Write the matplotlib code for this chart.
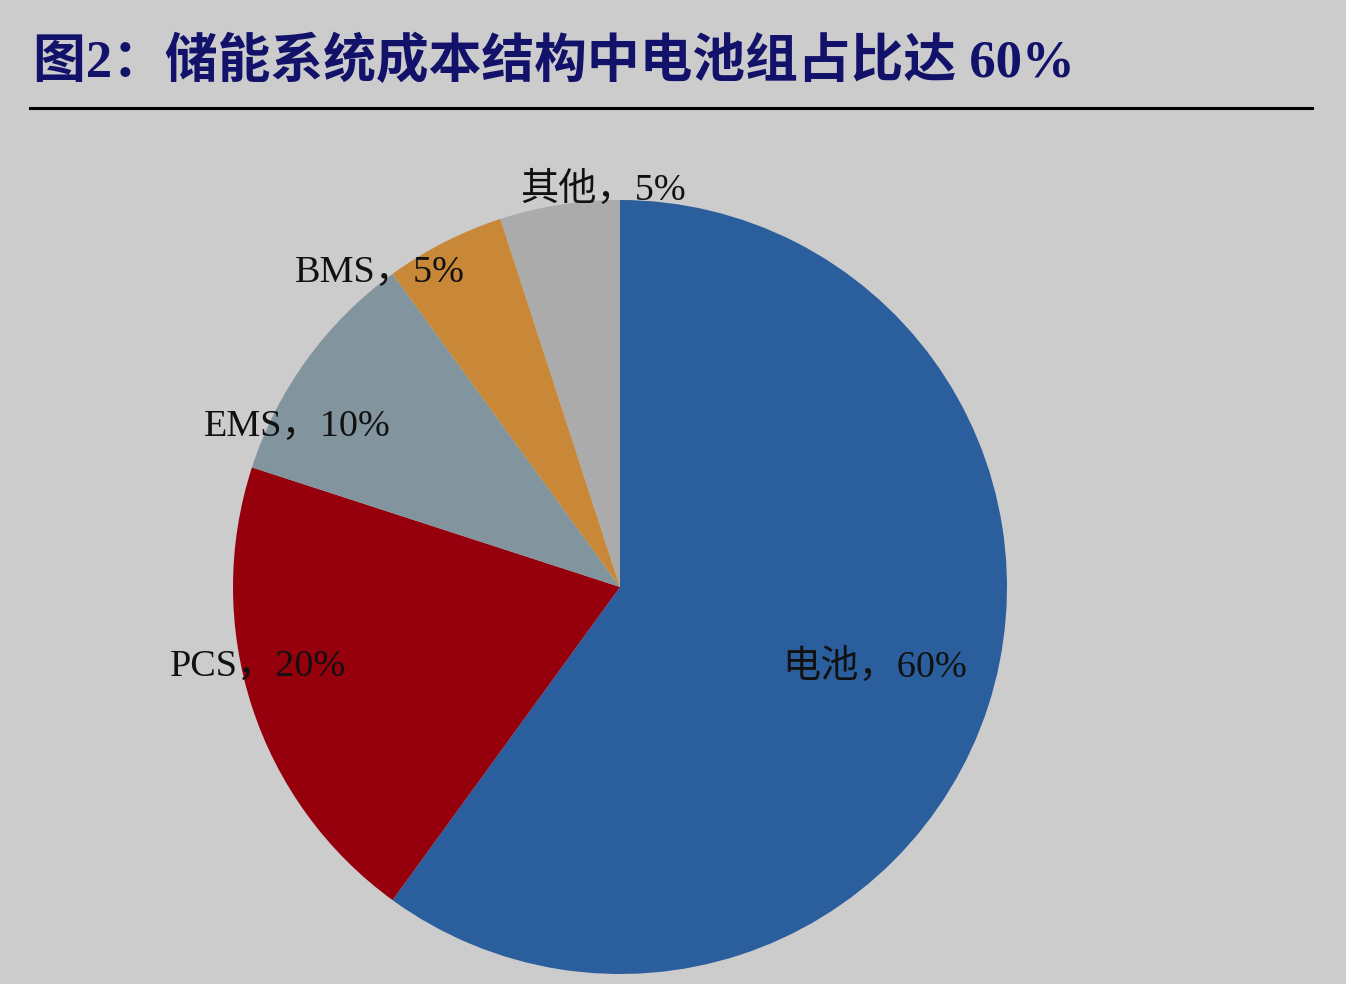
import matplotlib
matplotlib.use("Agg")
import matplotlib.pyplot as plt
from matplotlib.lines import Line2D

# Data
categories = ["电池", "PCS", "EMS", "BMS", "其他"]
shares = [60, 20, 10, 5, 5]
colors = ["#2A5E9C", "#96000C", "#82959E", "#C98838", "#ABABAB"]
title = "图2：储能系统成本结构中电池组占比达 60%"

# label placement (layout, in units of pie radius)
label_pos = [(0.659, -0.207), (-0.935, -0.207), (-0.835, 0.413),
             (-0.620, 0.811), (-0.044, 1.026)]

W, H = 1346, 984
fig = plt.figure(figsize=(W / 100, H / 100), dpi=100)
bg = "#CCCCCC"
fig.patch.set_facecolor(bg)

# Title
fig.text(33 / W, 1 - 62 / H, title, ha="left", va="center",
         fontsize=38, fontweight="bold", color="#12126A",
         family=["Liberation Serif", "Noto Sans CJK SC"])
fig.add_artist(Line2D([30 / W, 1312 / W], [1 - 108 / H, 1 - 108 / H],
                      color="black", linewidth=2.2, transform=fig.transFigure))

cx, cy, R = 620, 587, 387
ax = fig.add_axes([(cx - R) / W, (H - cy - R) / H, 2 * R / W, 2 * R / H])
ax.set_facecolor(bg)
ax.pie(shares, colors=colors, startangle=90, counterclock=False,
       radius=1.0, wedgeprops=dict(linewidth=0))
ax.set_xlim(-1, 1)
ax.set_ylim(-1, 1)
ax.set_aspect("auto")
ax.axis("off")

for cat, val, (x, y) in zip(categories, shares, label_pos):
    ax.text(x, y, f"{cat}，{val}%", ha="center", va="center",
            fontsize=27.5, color="#111111",
            family=["Liberation Serif", "Noto Sans CJK SC"])

fig.savefig("out.png", dpi=100, facecolor=bg)
